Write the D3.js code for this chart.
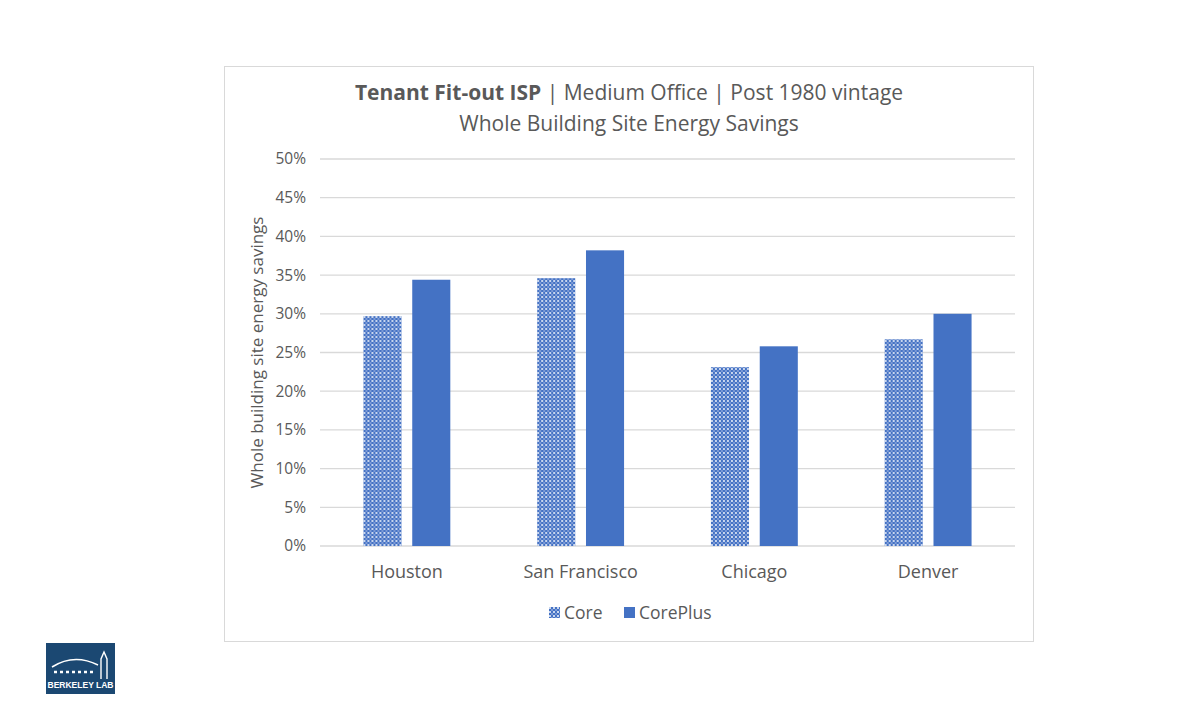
<!DOCTYPE html>
<html>
<head>
<meta charset="utf-8">
<script src="https://cdn.jsdelivr.net/npm/d3@7"></script>
<style>
  body { margin: 0; background: #fff; }
  text { font-family: "Open Sans", sans-serif; }
</style>
</head>
<body>
<svg id="chart" width="1200" height="708"></svg>
<script>
const cities = ["Houston", "San Francisco", "Chicago", "Denver"];
const series = ["Core", "CorePlus"];
const coreValues = [29.7, 34.6, 23.1, 26.7];
const corePlusValues = [34.4, 38.2, 25.8, 30.0];
const yTicks = [0, 5, 10, 15, 20, 25, 30, 35, 40, 45, 50];

const data = cities.map((c, i) => ({ city: c, Core: coreValues[i], CorePlus: corePlusValues[i] }));

const svg = d3.select("#chart");
const blue = "#4472C4";
const grey = "#595959";

// pattern for Core bars
const defs = svg.append("defs");
const pat = defs.append("pattern")
  .attr("id", "checks")
  .attr("patternUnits", "userSpaceOnUse")
  .attr("width", 4).attr("height", 4);
pat.append("rect").attr("width", 4).attr("height", 4).attr("fill", blue);
pat.append("rect").attr("x", 0).attr("y", 0).attr("width", 2).attr("height", 2).attr("fill", "#c9d6ee");
pat.append("rect").attr("x", 2).attr("y", 2).attr("width", 2).attr("height", 2).attr("fill", "#7d9bd6");

// outer chart frame
svg.append("rect")
  .attr("x", 224.5).attr("y", 66.5)
  .attr("width", 809).attr("height", 575)
  .attr("fill", "#fff").attr("stroke", "#d9d9d9");

const plotLeft = 320, plotRight = 1015, plotTop = 159, plotBottom = 546;

const x0 = d3.scaleBand().domain(cities).range([plotLeft, plotRight])
  .paddingInner(0.5).paddingOuter(0.25);
const x1 = d3.scaleBand().domain(series).range([0, x0.bandwidth()]).paddingInner(0.22);
const y = d3.scaleLinear().domain([0, 50]).range([plotBottom, plotTop]);

// gridlines
svg.append("g")
  .selectAll("line")
  .data(yTicks)
  .enter()
  .append("line")
  .attr("x1", plotLeft).attr("x2", plotRight)
  .attr("y1", d => y(d)).attr("y2", d => y(d))
  .attr("stroke", "#d9d9d9").attr("stroke-width", 1.3);

// y axis labels
const yAxis = d3.axisLeft(y).tickValues(yTicks).tickFormat(d => d + "%").tickSize(0).tickPadding(14);
const gy = svg.append("g").attr("transform", `translate(${plotLeft},0)`).call(yAxis);
gy.select(".domain").remove();
gy.selectAll("text").attr("font-size", 15.5).attr("fill", grey)
  .style("font-family", "'Open Sans', sans-serif");

// bars
const groups = svg.append("g")
  .selectAll("g")
  .data(data)
  .enter()
  .append("g")
  .attr("transform", d => `translate(${x0(d.city)},0)`);

groups.selectAll("rect")
  .data(d => series.map(s => ({ key: s, value: d[s] })))
  .enter()
  .append("rect")
  .attr("x", d => x1(d.key))
  .attr("width", x1.bandwidth())
  .attr("y", d => y(d.value))
  .attr("height", d => y(0) - y(d.value))
  .attr("fill", d => d.key === "Core" ? "url(#checks)" : blue);

// x axis labels
const xAxis = d3.axisBottom(x0).tickSize(0).tickPadding(19);
const gx = svg.append("g").attr("transform", `translate(0,${plotBottom})`).call(xAxis);
gx.select(".domain").remove();
gx.selectAll("text").attr("font-size", 18).attr("fill", grey)
  .style("font-family", "'Open Sans', sans-serif");

// y axis title
svg.append("text")
  .attr("transform", `translate(263,${(plotTop + plotBottom) / 2}) rotate(-90)`)
  .attr("text-anchor", "middle")
  .attr("font-size", 17)
  .attr("fill", grey)
  .text("Whole building site energy savings");

// chart title
const title = svg.append("text")
  .attr("x", 629).attr("y", 100)
  .attr("text-anchor", "middle")
  .attr("font-size", 21)
  .attr("fill", grey);
title.append("tspan").attr("font-weight", "bold").text("Tenant Fit-out ISP");
title.append("tspan").text(" | Medium Office | Post 1980 vintage");

svg.append("text")
  .attr("x", 629).attr("y", 131)
  .attr("text-anchor", "middle")
  .attr("font-size", 21)
  .attr("fill", grey)
  .text("Whole Building Site Energy Savings");

// legend
const legendX = [549, 624];
const legend = svg.append("g")
  .selectAll("g")
  .data(series)
  .enter()
  .append("g")
  .attr("transform", (d, i) => `translate(${legendX[i]},607)`);
legend.append("rect")
  .attr("width", 11).attr("height", 11)
  .attr("fill", d => d === "Core" ? "url(#checks)" : blue);
legend.append("text")
  .attr("x", 15).attr("y", 12)
  .attr("font-size", 17.5)
  .attr("fill", grey)
  .text(d => d);

// Berkeley Lab logo
const logo = svg.append("g").attr("transform", "translate(46,643)");
logo.append("rect").attr("width", 69).attr("height", 51).attr("fill", "#1b4872");
logo.append("path")
  .attr("d", "M6,24 Q28,10 52,22")
  .attr("fill", "none").attr("stroke", "#fff").attr("stroke-width", 1.5);
logo.append("path")
  .attr("d", "M8,29 L50,29")
  .attr("fill", "none").attr("stroke", "#fff").attr("stroke-width", 2.5)
  .attr("stroke-dasharray", "3,3");
logo.append("path")
  .attr("d", "M55,36 L55,16 L58,9 L61,16 L61,36")
  .attr("fill", "none").attr("stroke", "#fff").attr("stroke-width", 1.4);
logo.append("text")
  .attr("x", 34.5).attr("y", 45)
  .attr("text-anchor", "middle")
  .attr("font-size", 8.5)
  .attr("font-weight", "bold")
  .attr("fill", "#fff")
  .style("font-family", "'Liberation Sans', sans-serif")
  .text("BERKELEY LAB");
</script>
</body>
</html>
